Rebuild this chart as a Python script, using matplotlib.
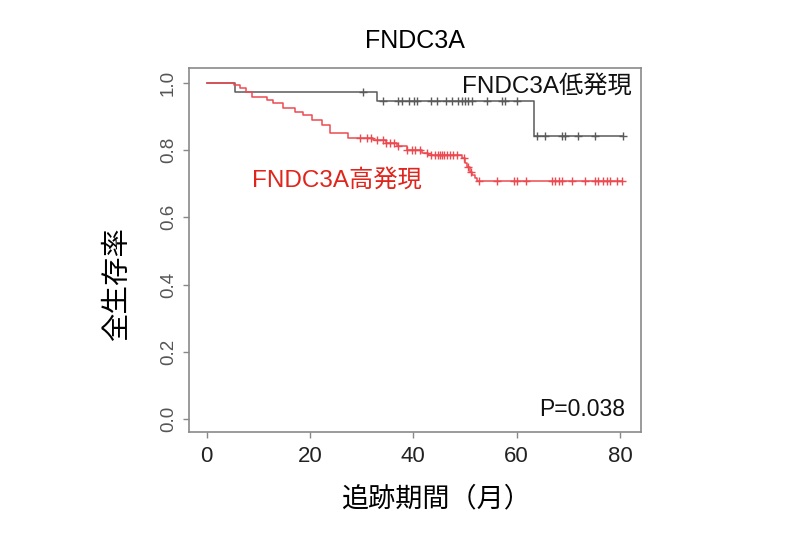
import numpy as np
import matplotlib
matplotlib.use("Agg")
import matplotlib.pyplot as plt

plt.rcParams['font.family'] = ['Liberation Sans', 'Noto Sans CJK JP']

# 低発現群 (gray): 死亡時点と生存率
low_times = [5.5, 32.9, 63.4]
low_surv = [0.973, 0.946, 0.842]
low_censor = [30.2, 34.1, 37.1, 37.8, 39.1, 40.1, 40.8, 43.4, 44.5, 46.4, 47.4,
              48.7, 49.4, 50.0, 50.6, 51.3, 54.2, 57.1, 57.7, 60.0,
              64.0, 65.5, 68.7, 69.4, 71.9, 75.2, 80.6]
low_end = 80.6

# 高発現群 (red)
high_times = [5.2, 6.5, 7.7, 8.7, 11.6, 12.9, 14.8, 17.1, 18.7, 20.3, 22.3, 23.9,
              27.4, 32.2, 34.8, 36.8, 38.7, 41.6, 42.9, 49.4, 50.0, 50.4, 50.9,
              51.4, 51.9, 52.3]
high_surv = [0.993, 0.983, 0.973, 0.958, 0.949, 0.939, 0.924, 0.914, 0.904, 0.889,
             0.874, 0.850, 0.835, 0.830, 0.820, 0.813, 0.800, 0.790, 0.785, 0.775,
             0.761, 0.750, 0.736, 0.726, 0.717, 0.708]
high_censor = [29.7, 31.0, 31.9, 32.9, 34.2, 34.8, 35.5, 36.2, 37.0, 38.7, 39.7,
               40.3, 41.3, 42.6, 43.5, 44.2, 44.7, 45.2, 45.6, 46.0, 46.5, 47.1,
               47.7, 48.4, 49.8, 50.6, 51.2, 52.8, 56.1, 59.4, 60.0, 61.9, 66.8,
               67.5, 68.1, 68.7, 70.7, 73.2, 75.2, 75.8, 76.7, 77.4, 78.1, 79.4, 80.3]
high_end = 80.3

x_ticks = [0, 20, 40, 60, 80]
y_ticks = [0.0, 0.2, 0.4, 0.6, 0.8, 1.0]

GRAY = '#5a5a5a'
RED = '#ec4a50'


def km_level(t, times, surv):
    idx = np.searchsorted(times, t, side='right')
    return np.r_[1.0, surv][idx]


def draw_curve(ax, times, surv, censor, end, color):
    xs = np.r_[0.0, times, end]
    ys = np.r_[1.0, surv, surv[-1]]
    ax.step(xs, ys, where='post', color=color, lw=1.1)
    c = np.array(censor)
    ax.plot(c, km_level(c, times, surv), ls='none', marker='+', ms=6,
            mew=1.0, color=color)


fig = plt.figure(figsize=(8, 5.33), dpi=100)
W, H = 800, 533
ax = fig.add_axes([189.3 / W, 1 - 432.3 / H, (641 - 189.3) / W, (432.3 - 68) / H])

draw_curve(ax, low_times, low_surv, low_censor, low_end, GRAY)
draw_curve(ax, high_times, high_surv, high_censor, high_end, RED)

ax.set_xlim(-3.37, 84.07)
ax.set_ylim(-0.0386, 1.0437)
ax.set_xticks(x_ticks)
ax.set_yticks(y_ticks)
ax.set_xticklabels([str(v) for v in x_ticks], fontsize=16, color='#222222')
ax.set_yticklabels([f'{v:.1f}' for v in y_ticks], fontsize=13.5, color='#555555',
                   rotation=90, va='center')
ax.tick_params(axis='both', direction='out', length=4, width=1, color='#888888')
ax.tick_params(axis='x', pad=6)
ax.tick_params(axis='y', pad=5)
for s in ax.spines.values():
    s.set_color('#8a8a8a')
    s.set_linewidth(1.2)

ax.text(82.3, 0.99, 'FNDC3A低発現', ha='right', va='center', fontsize=17.5, color='#111111')
ax.text(8.7, 0.711, 'FNDC3A高発現', ha='left', va='center', fontsize=17.5, color='#e0251c')
ax.text(81.0, 0.028, 'P=0.038', ha='right', va='center', fontsize=16.5, color='#111111')

fig.text(415 / W, 1 - 41 / H, 'FNDC3A', ha='center', va='center', fontsize=18)
fig.text(118 / W, 1 - 283 / H, '全生存率', ha='center', va='center', rotation=90,
         fontsize=20.5)
fig.text(436 / W, 1 - 499 / H, '追跡期間（月）', ha='center', va='center', fontsize=19.5)

fig.savefig('out.png', dpi=100)
